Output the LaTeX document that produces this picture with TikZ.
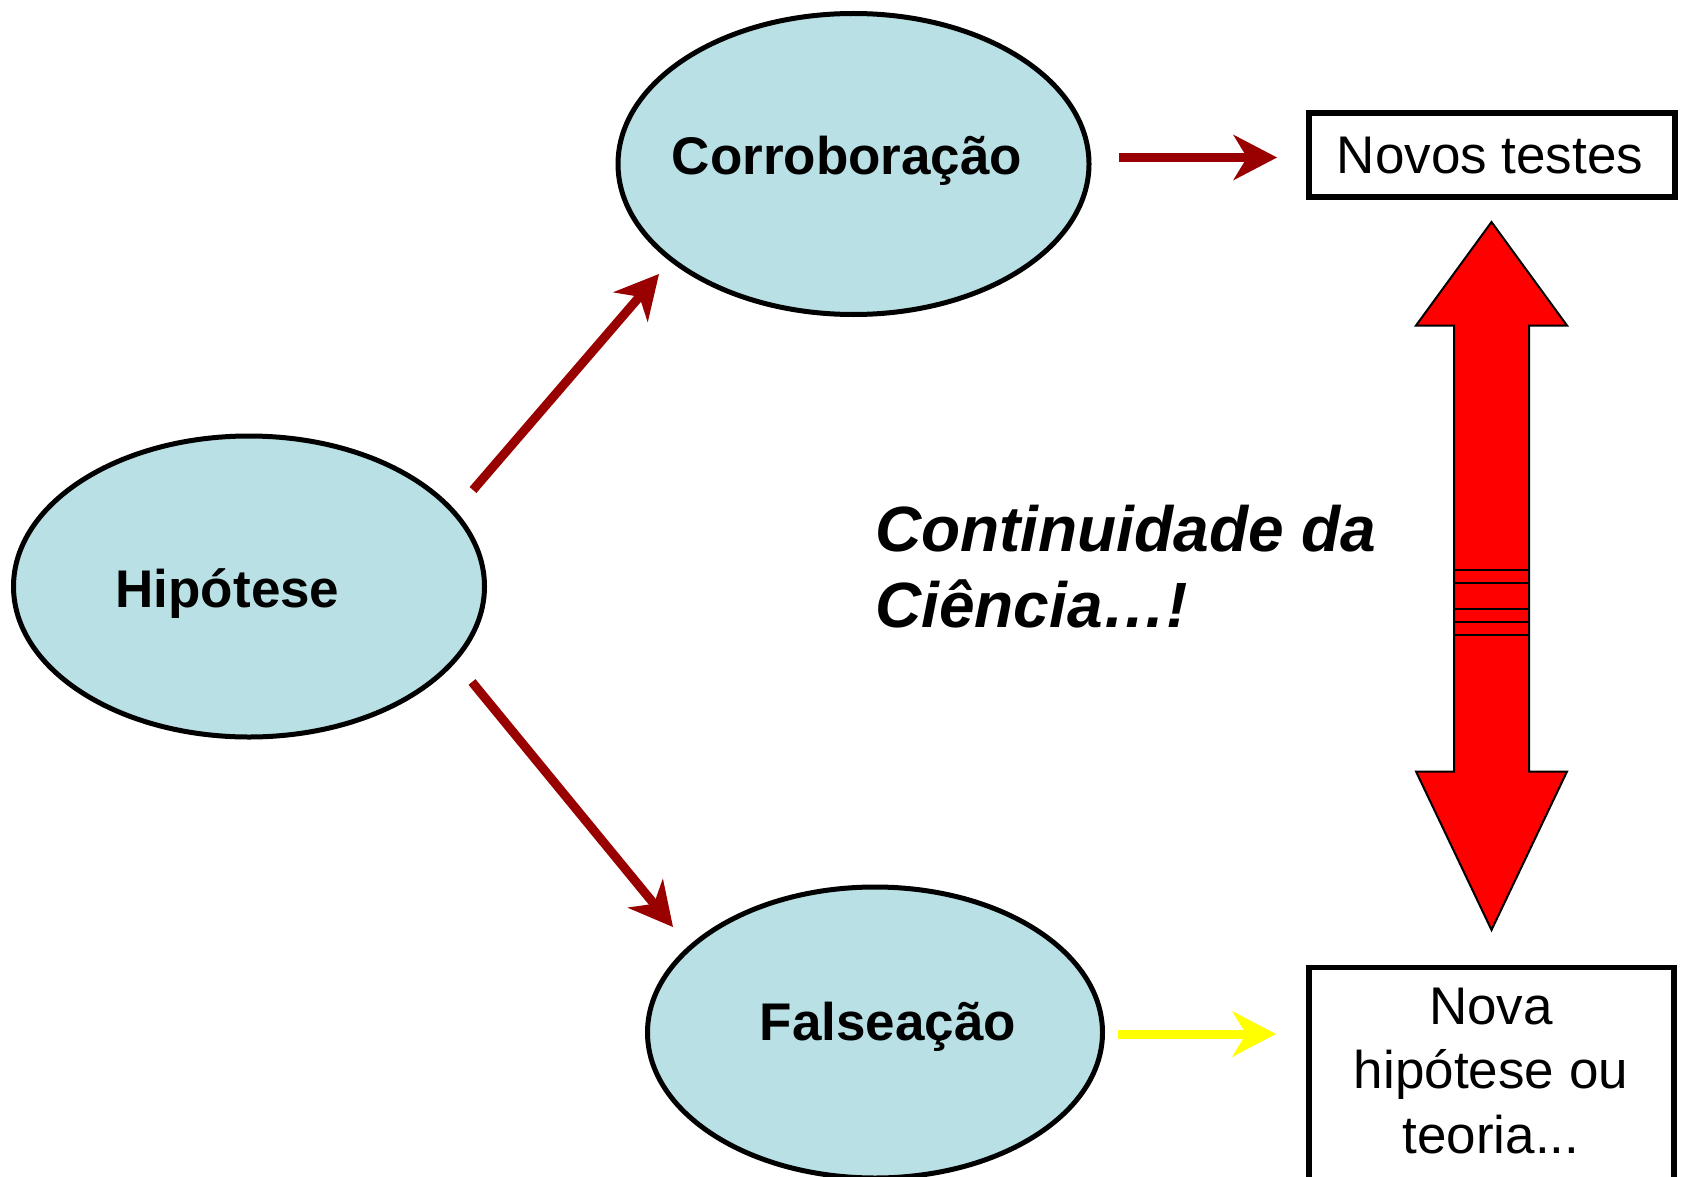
\documentclass[tikz,border=0pt]{standalone}
\usepackage{fontspec}
\setmainfont{Liberation Sans}
\usetikzlibrary{shapes.geometric,arrows.meta}
\definecolor{ellfill}{RGB}{185,224,228}
\definecolor{darkred}{RGB}{153,0,0}
\definecolor{brightyellow}{RGB}{255,255,0}
\definecolor{arrowred}{RGB}{255,0,0}
\begin{document}
\begin{tikzpicture}[x=1pt,y=-1pt,
  ell/.style={ellipse,draw=black,line width=5pt,fill=ellfill,inner sep=0pt},
  lbl/.style={font=\fontsize{53}{64}\selectfont\bfseries,anchor=base,inner sep=0pt},
  boxtxt/.style={font=\fontsize{53}{64.5}\selectfont,inner sep=0pt,align=center},
  box/.style={rectangle,draw=black,line width=5.5pt,inner sep=0pt,fill=white},
  con/.style={line width=9pt,-{Stealth[length=44pt,width=46pt,inset=14pt,line width=0pt]}},
]
\useasboundingbox (0,0) rectangle (1683,1177);
\fill[white] (0,0) rectangle (1683,1177);

% ellipses
\node[ell,minimum width=471pt,minimum height=301pt] (cor) at (853.5,164) {};
\node[ell,minimum width=471pt,minimum height=301pt] (hip) at (249,586.5) {};
\node[ell,minimum width=455pt,minimum height=291pt] (fal) at (875,1032.5) {};
\node[lbl] (cortxt) at (847,175) {Corroboração};
\node[lbl] (hiptxt) at (227.5,607) {Hipótese};
\node[lbl] (faltxt) at (888,1040) {Falseação};

% boxes
\node[box,minimum width=366pt,minimum height=84pt] (novos) at (1492,155.25) {};
\node[boxtxt,anchor=base] (novostxt) at (1490,174) {Novos testes};
\node[box,minimum width=365pt,minimum height=240pt] (nova) at (1491.5,1087.5) {};
\node[boxtxt,anchor=center] (novatxt) at (1491,1071) {Nova\\hipótese ou\\teoria...};

% connectors
\coordinate (h1) at (473,490);
\coordinate (c1) at (659,274);
\coordinate (h2) at (472,682);
\coordinate (f1) at (673,927);
\coordinate (c2) at (1119,157.5);
\coordinate (n1) at (1277,157.5);
\coordinate (f2) at (1118,1034);
\coordinate (n2) at (1276,1034);
\draw[con,color=darkred] (h1) -- (c1);
\draw[con,color=darkred] (h2) -- (f1);
\draw[con,color=darkred] (c2) -- (n1);
\draw[con,color=brightyellow] (f2) -- (n2);

% double arrow
\draw[fill=arrowred,line width=2pt,line join=miter]
  (1491.5,222) -- (1567,325.5) -- (1529,325.5) -- (1529,771.5) -- (1567,771.5)
  -- (1491.5,930) -- (1416,771.5) -- (1454,771.5) -- (1454,325.5) -- (1416,325.5) -- cycle;
\foreach \yy in {570,583,609,622,635}
  \draw[line width=2pt] (1454,\yy) -- (1529,\yy);

% text
\node[font=\fontsize{64}{76}\selectfont\bfseries\itshape,align=left,anchor=west,inner sep=0pt] (cont) at (875,567) {Continuidade da\\Ciência…!};
\end{tikzpicture}
\end{document}
